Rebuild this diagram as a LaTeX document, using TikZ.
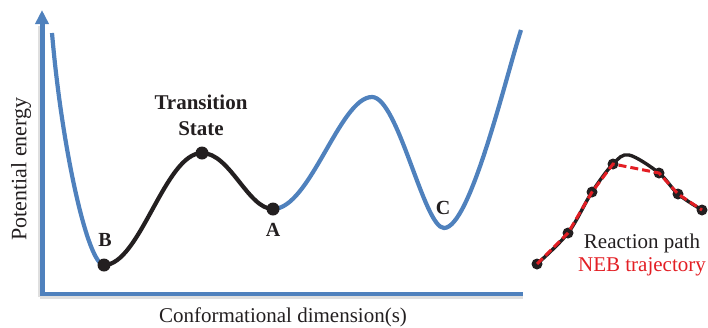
\documentclass[tikz,border=0pt]{standalone}
\usepackage{fontspec}
\setmainfont{Liberation Serif}
\usetikzlibrary{arrows.meta}
\definecolor{axisblue}{RGB}{79,129,189}
\definecolor{nebred}{RGB}{227,30,36}
\definecolor{ink}{RGB}{35,31,32}

\begin{document}
\begin{tikzpicture}[x=1pt, y=1pt,
    pes/.style={line width=4.2pt, axisblue},
    rxn/.style={line width=4.2pt, ink},
    neb/.style={line width=3pt, nebred, dash pattern=on 8pt off 4pt},
    state/.style={circle, fill=ink, inner sep=0pt, minimum size=13pt},
    bead/.style={circle, fill=ink, inner sep=0pt, minimum size=11pt},
    tag/.style={font=\fontsize{20}{23}\selectfont\bfseries, text=ink, align=center},
    axlbl/.style={font=\fontsize{21}{25}\selectfont, text=ink},
    shade/.style={gray!25, line width=3pt},
]
\useasboundingbox (0,0) rectangle (708,-327);

\coordinate (origin) at (42,-294);
\coordinate (ytip)   at (42,-10);
\coordinate (xstart) at (40,-294);
\coordinate (xend)   at (523,-294);
\coordinate (ltop)   at (52,-33);
\coordinate (B)      at (104,-265);
\coordinate (TS)     at (202,-153);
\coordinate (A)      at (273,-209);
\coordinate (hump)   at (372,-97);
\coordinate (C)      at (444,-228);
\coordinate (rtop)   at (521,-30);

\draw[shade] ([xshift=-3pt,yshift=-3pt]origin) -- ([xshift=-3pt]42,-26);
\draw[shade] ([yshift=-3.5pt]xstart) -- ([yshift=-3.5pt]xend);
\draw[axisblue, line width=5pt, -{Triangle[width=13pt,length=14pt]}] (origin) -- (ytip);
\draw[axisblue, line width=3.5pt] (xstart) -- (xend);

\draw[pes] (ltop) .. controls (62,-150) and (88,-265) .. (B);
\draw[rxn] (B) .. controls (140,-265) and (165,-153) .. (TS)
               .. controls (230,-153) and (248,-209) .. (A);
\draw[pes] (A) .. controls (310,-209) and (340,-97) .. (hump)
               .. controls (398,-97) and (424,-228) .. (C)
               .. controls (470,-228) and (505,-80) .. (rtop);

\node[state] at (B) {};
\node[state] at (TS) {};
\node[state] at (A) {};

\node[tag] (labB)  at (105,-240) {B};
\node[tag] (labA)  at (273,-230) {A};
\node[tag] (labC)  at (443,-208) {C};
\node[tag, font=\fontsize{21}{26}\selectfont\bfseries] (labTS) at (201,-115) {Transition\\State};

\node[axlbl, rotate=90, font=\fontsize{22}{26}\selectfont] (ylab) at (21,-169) {Potential energy};
\node[axlbl, anchor=base] (xlab) at (283,-322) {Conformational dimension(s)};

\coordinate (n1) at (537,-264);
\coordinate (n2) at (568,-233);
\coordinate (n3) at (592,-192);
\coordinate (n4) at (613,-164);
\coordinate (peak) at (629,-155);
\coordinate (n5) at (659,-173);
\coordinate (n6) at (678,-194);
\coordinate (n7) at (702,-210);

\draw[rxn, line width=3.4pt] plot[smooth, tension=0.55] coordinates {(n1) (n2) (n3) (n4) (peak) (n5) (n6) (n7)};
\foreach \b in {n1,n2,n3,n4,n5,n6,n7}
  \node[bead] at (\b) {};
\draw[neb] (n1) -- (n2) -- (n3) -- (n4) -- (n5) -- (n6) -- (n7);

\node[axlbl, anchor=base] (rpath) at (642,-248) {Reaction path};
\node[axlbl, anchor=base, text=nebred] (nebtr) at (642,-271) {NEB trajectory};
\end{tikzpicture}
\end{document}
